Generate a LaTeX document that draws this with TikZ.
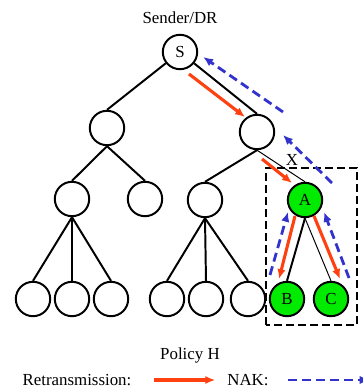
\documentclass[tikz,border=0pt]{standalone}
\usepackage{fontspec}
\setmainfont{Liberation Serif}
\usetikzlibrary{arrows.meta, calc}
\definecolor{retxred}{RGB}{255,64,16}
\definecolor{nakblue}{RGB}{51,51,204}
\definecolor{rcvgreen}{RGB}{0,235,0}

\begin{document}
\begin{tikzpicture}[
    font=\fontsize{12}{14}\selectfont,
    router/.style={draw, circle, line width=1.4pt, minimum size=0.86cm, inner sep=0pt},
    member/.style={router, fill=rcvgreen},
    link/.style={line width=1.4pt},
    thinlink/.style={line width=0.7pt},
    retx/.style={retxred, line width=2.2pt, -{Latex[length=7pt, width=6pt]}},
    nak/.style={nakblue, line width=2pt, dash pattern=on 0.225cm off 0.125cm, -{Latex[length=7pt, width=6pt]}}
  ]
  \useasboundingbox (0,0) rectangle (9.05,9.75);

  \node (sender) at (4.5, 9.3) {Sender/DR};
  \node[router] (s) at (4.5, 8.45) {S};
  \node[router] (u1) at (2.675, 6.55) {};
  \node[router] (u2) at (6.425, 6.45) {};
  \node[router] (m1) at (1.8, 4.775) {};
  \node[router] (m2) at (3.625, 4.775) {};
  \node[router] (m3) at (5.125, 4.75) {};
  \node[member] (a) at (7.625, 4.75) {A};
  \node[router] (l1) at (0.825, 2.275) {};
  \node[router] (l2) at (1.8, 2.275) {};
  \node[router] (l3) at (2.775, 2.275) {};
  \node[router] (l4) at (4.175, 2.275) {};
  \node[router] (l5) at (5.15, 2.275) {};
  \node[router] (l6) at (6.2, 2.275) {};
  \node[member] (b) at (7.175, 2.275) {B};
  \node[member] (c) at (8.275, 2.275) {C};

  % tree links
  \draw[link] (s) -- (u1.north);
  \draw[link] (s) -- (u2.north);
  \draw[link] (u1.south) -- (m1.north);
  \draw[link] (u1.south) -- (m2.north);
  \draw[link] (u2.south) -- (m3.north);
  \draw[thinlink] (u2.south) -- (a.north);
  \foreach \leaf in {l1, l2, l3}
    \draw[link] (m1.south) -- (\leaf.north);
  \foreach \leaf in {l4, l5, l6}
    \draw[link] (m3.south) -- (\leaf.north);
  \draw[link] (a.south) -- (b.north);
  \draw[thinlink] (a.south) -- (c.north);

  \node (cut) at (7.3, 5.75) {X};
  \draw[line width=2pt, dash pattern=on 0.2cm off 0.1cm] (6.65, 1.625) rectangle (8.925, 5.55);

  % retransmissions
  \draw[retx] ($(s)+(0.225,-0.55)$) -- ($(u2)+(-0.3,0.375)$);
  \draw[retx] ($(u2)+(0.125,-0.675)$) -- ($(a)+(-0.325,0.425)$);
  \draw[retx] ($(a)+(-0.25,-0.4)$) -- ($(b)+(-0.2,0.5)$);
  \draw[retx] ($(a)+(0.225,-0.4)$) -- ($(c)+(0.225,0.5)$);

  % NAKs
  \draw[nak] ($(b)+(-0.425,0.6)$) -- ($(a)+(-0.425,-0.3)$);
  \draw[nak] ($(c)+(0.45,0.525)$) -- ($(a)+(0.475,-0.3)$);
  \draw[nak] ($(a)+(0.675,0.425)$) -- ($(u2)+(0.65,-0.075)$);
  \draw[nak] ($(u2)+(0.65,0.5)$) -- ($(s.east)+(0.125,-0.125)$);

  % legend
  \node (policy) at (4.75, 0.875) {Policy H};
  \node (retxlabel) at (1.925, 0.25) {Retransmission:};
  \node (naklabel) at (6.2, 0.25) {NAK:};
  \draw[retx] ([xshift=0.45cm]retxlabel.east) -- ++(1.52, 0);
  \draw[nak] ([xshift=0.35cm]naklabel.east) -- ++(2.05, 0);
\end{tikzpicture}
\end{document}
